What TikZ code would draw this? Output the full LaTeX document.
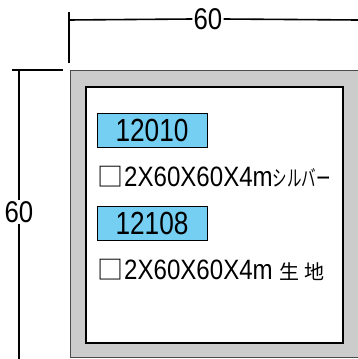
\documentclass[tikz,border=0pt]{standalone}
\usepackage{fontspec}
\setmainfont{Liberation Sans}
\newfontfamily\nar[FakeStretch=0.86]{Liberation Sans}
\newfontfamily\narr[FakeStretch=0.82]{Liberation Sans}
\newfontfamily\jp{Noto Sans CJK JP}
\definecolor{lblue}{HTML}{74CFF2}
\definecolor{pgray}{HTML}{CCCCCC}
\begin{document}
\begin{tikzpicture}[x=1pt,y=-1pt,
  dim/.style={line width=1.6pt, black},
  dimtext/.style={font=\nar\fontsize{30}{30}\selectfont, fill=white, inner sep=1pt},
  code/.style={draw=black, line width=1pt, fill=lblue, minimum width=110pt, minimum height=34pt, inner sep=0pt, font=\narr\fontsize{32}{32}\selectfont},
  spec/.style={anchor=west, inner sep=0pt, font=\nar\fontsize{28}{28}\selectfont}]
\useasboundingbox (0,0) rectangle (358,359);
\begin{scope}
  \clip (0,0) rectangle (358,359);
  \draw[fill=pgray, draw=black!70, line width=1pt] (70,70) rectangle (365,357);
  \draw[fill=white, draw=black, line width=1.5pt] (86,87) rectangle (343,343);
\end{scope}
% top dimension
\coordinate (ta) at (69,12);
\coordinate (tb) at (69,63);
\draw[dim] (ta) -- (tb);
\node[dimtext] (topdim) at (208,19) {60};
\coordinate (tl) at (68.2,20);
\coordinate (tr) at (358,20);
\draw[dim] (tl) -- (topdim.west);
\draw[dim] (topdim.east) -- (tr);
% left dimension
\coordinate (la) at (12,70);
\coordinate (lb) at (63,70);
\draw[dim] (la) -- (lb);
\node[dimtext] (leftdim) at (19,212) {60};
\coordinate (lt) at (19,69.2);
\coordinate (lbot) at (19,359);
\draw[dim] (lt) -- (leftdim.north);
\draw[dim] (leftdim.south) -- (lbot);
% labels
\node[code] (c1) at (152,130.5) {12010};
\node[code] (c2) at (152,223) {12108};
\node[spec] (s1) at (97,177) {{\jp\fontsize{26}{26}\selectfont □}\hspace{1pt}2X60X60X4m\scalebox{0.66}[1]{\jp\fontsize{22}{22}\selectfont シルバー}};
\node[spec] (s2) at (97,270) {{\jp\fontsize{26}{26}\selectfont □}\hspace{1pt}2X60X60X4m{\jp\fontsize{20}{20}\selectfont\hspace{7pt}生\hspace{5pt}地}};
\end{tikzpicture}
\end{document}
